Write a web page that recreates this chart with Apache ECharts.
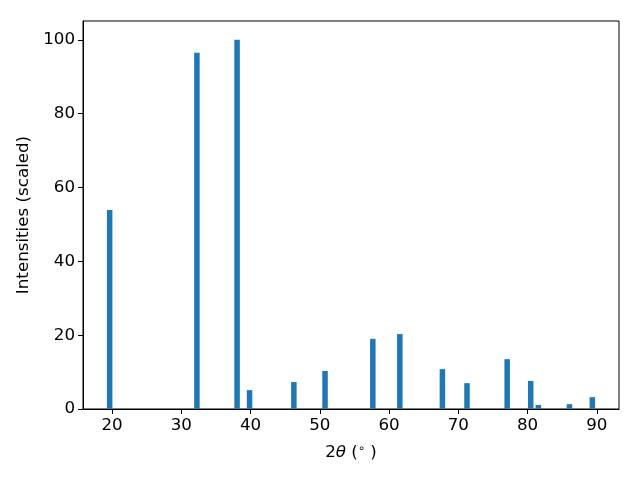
<!DOCTYPE html>
<html>
<head>
<meta charset="utf-8">
<script src="https://cdn.jsdelivr.net/npm/echarts@6/dist/echarts.min.js"></script>
<style>html,body{margin:0;padding:0;background:#fff;}#c{width:640px;height:480px;}</style>
</head>
<body>
<div id="c"></div>
<script>
const twoTheta = [19.65, 32.25, 38.05, 39.85, 46.25, 50.75, 57.65, 61.55, 67.7, 71.25, 77.05, 80.45, 81.55, 86.05, 89.35];
const intensities = [53.9, 96.5, 100.0, 5.1, 7.3, 10.3, 19.0, 20.3, 10.8, 7.0, 13.5, 7.6, 1.1, 1.3, 3.2];
const xTicks = [20, 30, 40, 50, 60, 70, 80, 90];
const yTicks = [0, 20, 40, 60, 80, 100];

const chart = echarts.init(document.getElementById('c'), null, {renderer: 'canvas'});
const font = 'DejaVu Sans';
chart.setOption({
  animation: false,
  backgroundColor: '#fff',
  grid: {left: 83, right: 21, top: 21, bottom: 71, show: true, borderColor: '#000', borderWidth: 1, backgroundColor: 'transparent'},
  xAxis: {
    type: 'value', min: 15.8, max: 93.2,
    splitLine: {show: false},
    axisLine: {show: true, lineStyle: {color: '#000', width: 1}},
    axisTick: {show: true, customValues: xTicks, length: 5, lineStyle: {color: '#000'}},
    axisLabel: {customValues: xTicks, color: '#000', fontFamily: font, fontSize: 16.7, margin: 8},
    name: '2{i|θ} ({s|∘} )',
    nameLocation: 'middle', nameGap: 34,
    nameTextStyle: {color: '#000', fontFamily: font, fontSize: 16.7,
      rich: {i: {fontStyle: 'italic', fontFamily: font, fontSize: 16.7, color: '#000'},
             s: {fontFamily: font, fontSize: 11.5, color: '#000', padding: [0, 0, 8, 0]}}}
  },
  yAxis: {
    type: 'value', min: 0, max: 105.1,
    splitLine: {show: false},
    axisLine: {show: true, lineStyle: {color: '#000', width: 1}},
    axisTick: {show: true, customValues: yTicks, length: 5, lineStyle: {color: '#000'}},
    axisLabel: {customValues: yTicks, color: '#000', fontFamily: font, fontSize: 16.7, margin: 8},
    name: 'Intensities (scaled)',
    nameLocation: 'middle', nameGap: 45, nameRotate: 90,
    nameTextStyle: {color: '#000', fontFamily: font, fontSize: 16.7}
  },
  series: [{
    type: 'bar',
    data: twoTheta.map((x, i) => [x, intensities[i]]),
    barWidth: 5.5,
    itemStyle: {color: '#1f77b4'}
  }]
});
</script>
</body>
</html>
